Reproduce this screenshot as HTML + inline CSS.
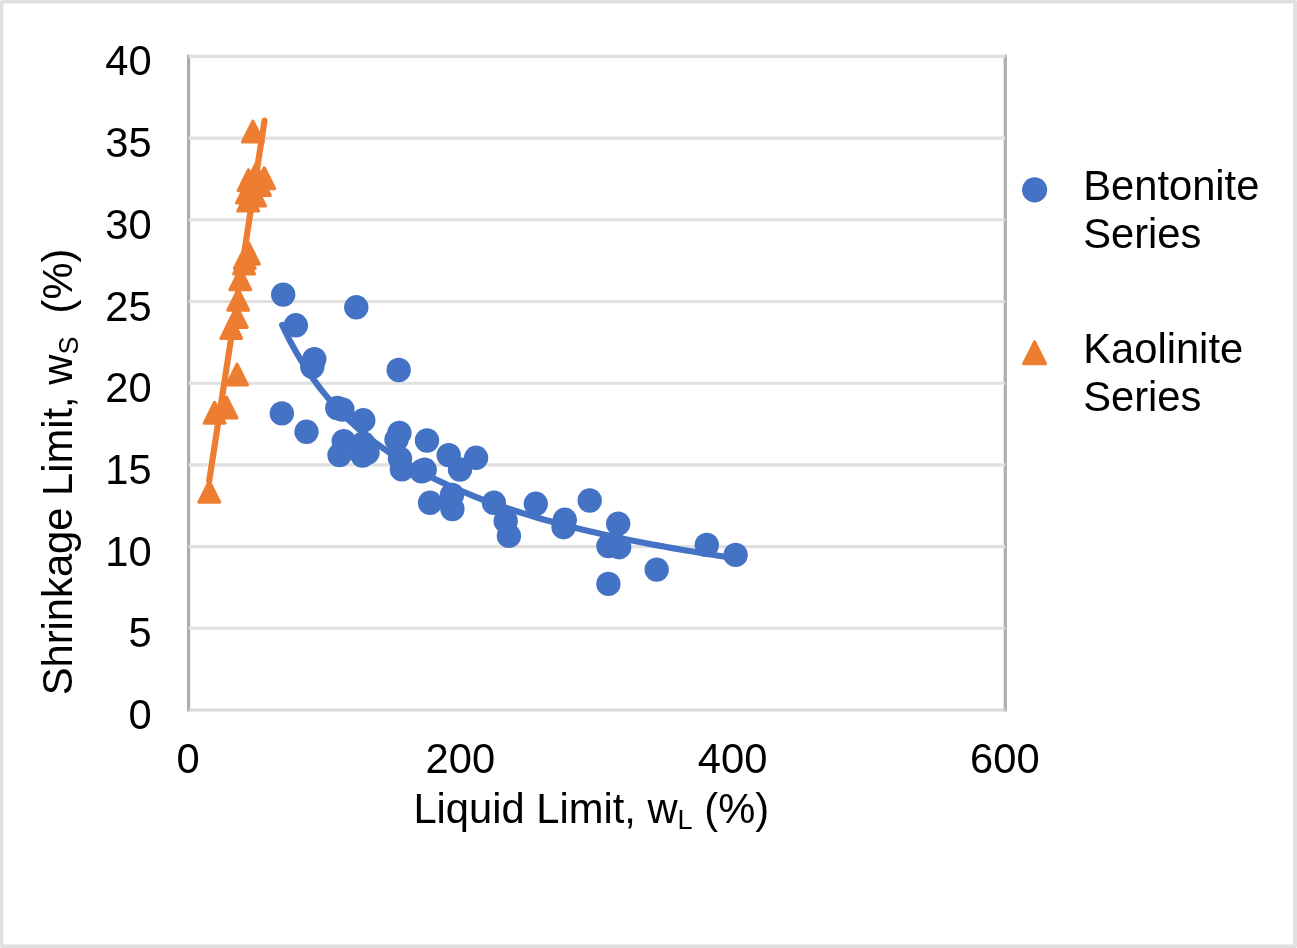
<!DOCTYPE html>
<html lang="en"><head><meta charset="utf-8"><title>Shrinkage Limit vs Liquid Limit</title>
<style>html,body{margin:0;padding:0;background:#fff;}svg{display:block;}</style></head>
<body>
<svg width="1297" height="948" viewBox="0 0 1297 948">
<rect x="0" y="0" width="1297" height="948" rx="2" fill="#e0e0e0"/>
<rect x="3.5" y="3.5" width="1289.6" height="940.9" fill="#ffffff"/>
<line x1="188.6" x2="188.6" y1="54.8" y2="711.6" stroke="#adadad" stroke-width="3.2"/>
<line x1="1005.3" x2="1005.3" y1="54.8" y2="711.6" stroke="#adadad" stroke-width="3.2"/>
<line x1="188.6" x2="1005.3" y1="628.3" y2="628.3" stroke="#e0e0e0" stroke-width="3.1"/>
<line x1="188.6" x2="1005.3" y1="546.6" y2="546.6" stroke="#e0e0e0" stroke-width="3.1"/>
<line x1="188.6" x2="1005.3" y1="464.9" y2="464.9" stroke="#e0e0e0" stroke-width="3.1"/>
<line x1="188.6" x2="1005.3" y1="383.2" y2="383.2" stroke="#e0e0e0" stroke-width="3.1"/>
<line x1="188.6" x2="1005.3" y1="301.5" y2="301.5" stroke="#e0e0e0" stroke-width="3.1"/>
<line x1="188.6" x2="1005.3" y1="219.8" y2="219.8" stroke="#e0e0e0" stroke-width="3.1"/>
<line x1="188.6" x2="1005.3" y1="138.1" y2="138.1" stroke="#e0e0e0" stroke-width="3.1"/>
<line x1="188.6" x2="1005.3" y1="56.4" y2="56.4" stroke="#e0e0e0" stroke-width="3.1"/>
<line x1="188.6" x2="1005.3" y1="710.0" y2="710.0" stroke="#d9d9d9" stroke-width="3.1"/>
<g fill="#4472c4">
<circle cx="283.2" cy="294.6" r="12.2"/>
<circle cx="295.8" cy="325.3" r="12.2"/>
<circle cx="314.3" cy="359.1" r="12.2"/>
<circle cx="312.3" cy="366.8" r="12.2"/>
<circle cx="356.3" cy="307.3" r="12.2"/>
<circle cx="398.7" cy="370.0" r="12.2"/>
<circle cx="281.8" cy="413.4" r="12.2"/>
<circle cx="306.5" cy="431.8" r="12.2"/>
<circle cx="337.3" cy="408.0" r="12.2"/>
<circle cx="342.4" cy="409.5" r="12.2"/>
<circle cx="363.3" cy="420.3" r="12.2"/>
<circle cx="343.7" cy="441.1" r="12.2"/>
<circle cx="339.5" cy="455.1" r="12.2"/>
<circle cx="363.3" cy="443.4" r="12.2"/>
<circle cx="362.5" cy="455.5" r="12.2"/>
<circle cx="367.5" cy="452.5" r="12.2"/>
<circle cx="399.4" cy="432.9" r="12.2"/>
<circle cx="396.5" cy="439.6" r="12.2"/>
<circle cx="400.0" cy="458.6" r="12.2"/>
<circle cx="401.9" cy="469.4" r="12.2"/>
<circle cx="427.0" cy="440.5" r="12.2"/>
<circle cx="424.7" cy="469.8" r="12.2"/>
<circle cx="421.5" cy="471.3" r="12.2"/>
<circle cx="448.7" cy="455.1" r="12.2"/>
<circle cx="460.0" cy="469.5" r="12.2"/>
<circle cx="476.1" cy="457.8" r="12.2"/>
<circle cx="452.0" cy="495.0" r="12.2"/>
<circle cx="452.4" cy="509.0" r="12.2"/>
<circle cx="430.0" cy="502.8" r="12.2"/>
<circle cx="493.9" cy="502.8" r="12.2"/>
<circle cx="535.8" cy="503.8" r="12.2"/>
<circle cx="505.7" cy="521.0" r="12.2"/>
<circle cx="508.9" cy="535.9" r="12.2"/>
<circle cx="564.8" cy="519.8" r="12.2"/>
<circle cx="563.6" cy="527.2" r="12.2"/>
<circle cx="589.7" cy="500.5" r="12.2"/>
<circle cx="618.2" cy="523.7" r="12.2"/>
<circle cx="608.4" cy="546.1" r="12.2"/>
<circle cx="619.1" cy="547.2" r="12.2"/>
<circle cx="656.7" cy="569.6" r="12.2"/>
<circle cx="608.4" cy="583.9" r="12.2"/>
<circle cx="706.8" cy="544.9" r="12.2"/>
<circle cx="735.6" cy="554.9" r="12.2"/>
</g>
<path d="M282.2,325.1 L289.9,340.8 L297.6,354.7 L305.3,367.3 L312.9,378.6 L320.6,388.9 L328.3,398.4 L336.0,407.0 L343.7,415.0 L351.4,422.5 L359.0,429.4 L366.7,435.8 L374.4,441.9 L382.1,447.5 L389.8,452.9 L397.5,457.9 L405.2,462.7 L412.8,467.2 L420.5,471.4 L428.2,475.5 L435.9,479.4 L443.6,483.1 L451.3,486.6 L458.9,490.0 L466.6,493.2 L474.3,496.3 L482.0,499.3 L489.7,502.1 L497.4,504.9 L505.1,507.5 L512.7,510.0 L520.4,512.5 L528.1,514.9 L535.8,517.2 L543.5,519.4 L551.2,521.5 L558.9,523.6 L566.5,525.6 L574.2,527.5 L581.9,529.4 L589.6,531.3 L597.3,533.0 L605.0,534.8 L612.6,536.4 L620.3,538.1 L628.0,539.7 L635.7,541.2 L643.4,542.7 L651.1,544.2 L658.8,545.6 L666.4,547.0 L674.1,548.4 L681.8,549.7 L689.5,551.0 L697.2,552.3 L704.9,553.6 L712.5,554.8 L720.2,556.0 L727.9,557.1 L735.6,558.3" fill="none" stroke="#4472c4" stroke-width="6.2" stroke-linecap="round" stroke-linejoin="round"/>
<g fill="#ed7d31" stroke="#ed7d31" stroke-width="3.1" stroke-linejoin="round">
<path d="M252.9,121.1 L263.3,141.9 L242.5,141.9 Z"/>
<path d="M255.8,163.9 L266.2,184.7 L245.4,184.7 Z"/>
<path d="M248.5,169.8 L258.9,190.6 L238.1,190.6 Z"/>
<path d="M264.3,167.8 L274.7,188.6 L253.9,188.6 Z"/>
<path d="M259.9,174.6 L270.3,195.4 L249.5,195.4 Z"/>
<path d="M247.0,182.2 L257.4,203.0 L236.6,203.0 Z"/>
<path d="M255.1,185.1 L265.5,205.9 L244.7,205.9 Z"/>
<path d="M248.2,190.1 L258.6,210.9 L237.8,210.9 Z"/>
<path d="M248.9,243.3 L259.3,264.1 L238.5,264.1 Z"/>
<path d="M244.8,247.6 L255.2,268.4 L234.4,268.4 Z"/>
<path d="M244.1,253.1 L254.5,273.9 L233.7,273.9 Z"/>
<path d="M240.3,268.9 L250.7,289.7 L229.9,289.7 Z"/>
<path d="M238.2,289.5 L248.6,310.3 L227.8,310.3 Z"/>
<path d="M236.8,306.6 L247.2,327.4 L226.4,327.4 Z"/>
<path d="M231.3,317.6 L241.7,338.4 L220.9,338.4 Z"/>
<path d="M237.1,364.1 L247.5,384.9 L226.7,384.9 Z"/>
<path d="M226.6,397.2 L237.0,418.0 L216.2,418.0 Z"/>
<path d="M214.6,402.3 L225.0,423.1 L204.2,423.1 Z"/>
<path d="M209.3,481.4 L219.7,502.2 L198.9,502.2 Z"/>
</g>
<path d="M209.2,481 L264.5,120.6" fill="none" stroke="#ed7d31" stroke-width="6.2" stroke-linecap="round" stroke-linejoin="round"/>
<circle cx="1034.6" cy="189.8" r="12.6" fill="#4472c4"/>
<path d="M1034.6,341.9 L1045.5,363.7 L1023.7,363.7 Z" fill="#ed7d31" stroke="#ed7d31" stroke-width="3.1" stroke-linejoin="round"/>
<g font-family="'Liberation Sans', Arial, sans-serif" fill="#000" font-size="41.7">
<text transform="translate(151.6,729.0) scale(1,1.04)" text-anchor="end">0</text>
<text transform="translate(151.6,647.3) scale(1,1.04)" text-anchor="end">5</text>
<text transform="translate(151.6,565.6) scale(1,1.04)" text-anchor="end">10</text>
<text transform="translate(151.6,483.9) scale(1,1.04)" text-anchor="end">15</text>
<text transform="translate(151.6,402.2) scale(1,1.04)" text-anchor="end">20</text>
<text transform="translate(151.6,320.5) scale(1,1.04)" text-anchor="end">25</text>
<text transform="translate(151.6,238.8) scale(1,1.04)" text-anchor="end">30</text>
<text transform="translate(151.6,157.1) scale(1,1.04)" text-anchor="end">35</text>
<text transform="translate(151.6,75.4) scale(1,1.04)" text-anchor="end">40</text>
<text transform="translate(188.1,773.1) scale(1,1.04)" text-anchor="middle">0</text>
<text transform="translate(460.3,773.1) scale(1,1.04)" text-anchor="middle">200</text>
<text transform="translate(732.6,773.1) scale(1,1.04)" text-anchor="middle">400</text>
<text transform="translate(1004.8,773.1) scale(1,1.04)" text-anchor="middle">600</text>
<text transform="translate(413.4,823.0) scale(1,1.03)" text-anchor="start">Liquid Limit, w<tspan font-size="27.1" dy="6">L</tspan><tspan dy="-6" xml:space="preserve"> (%)</tspan></text>
<text transform="translate(72.2,695.3) rotate(-90) scale(1,1.03)" text-anchor="start">Shrinkage Limit, w<tspan font-size="27.1" dy="6">S</tspan><tspan dy="-6" xml:space="preserve">&#160; (%)</tspan></text>
<text transform="translate(1083.2,200.1) scale(1,1.03)" text-anchor="start">Bentonite</text><text transform="translate(1083.2,248.1) scale(1,1.03)" text-anchor="start">Series</text>
<text transform="translate(1083.2,363.2) scale(1,1.03)" text-anchor="start">Kaolinite</text><text transform="translate(1083.2,411.0) scale(1,1.03)" text-anchor="start">Series</text>
</g>
</svg>
</body></html>
